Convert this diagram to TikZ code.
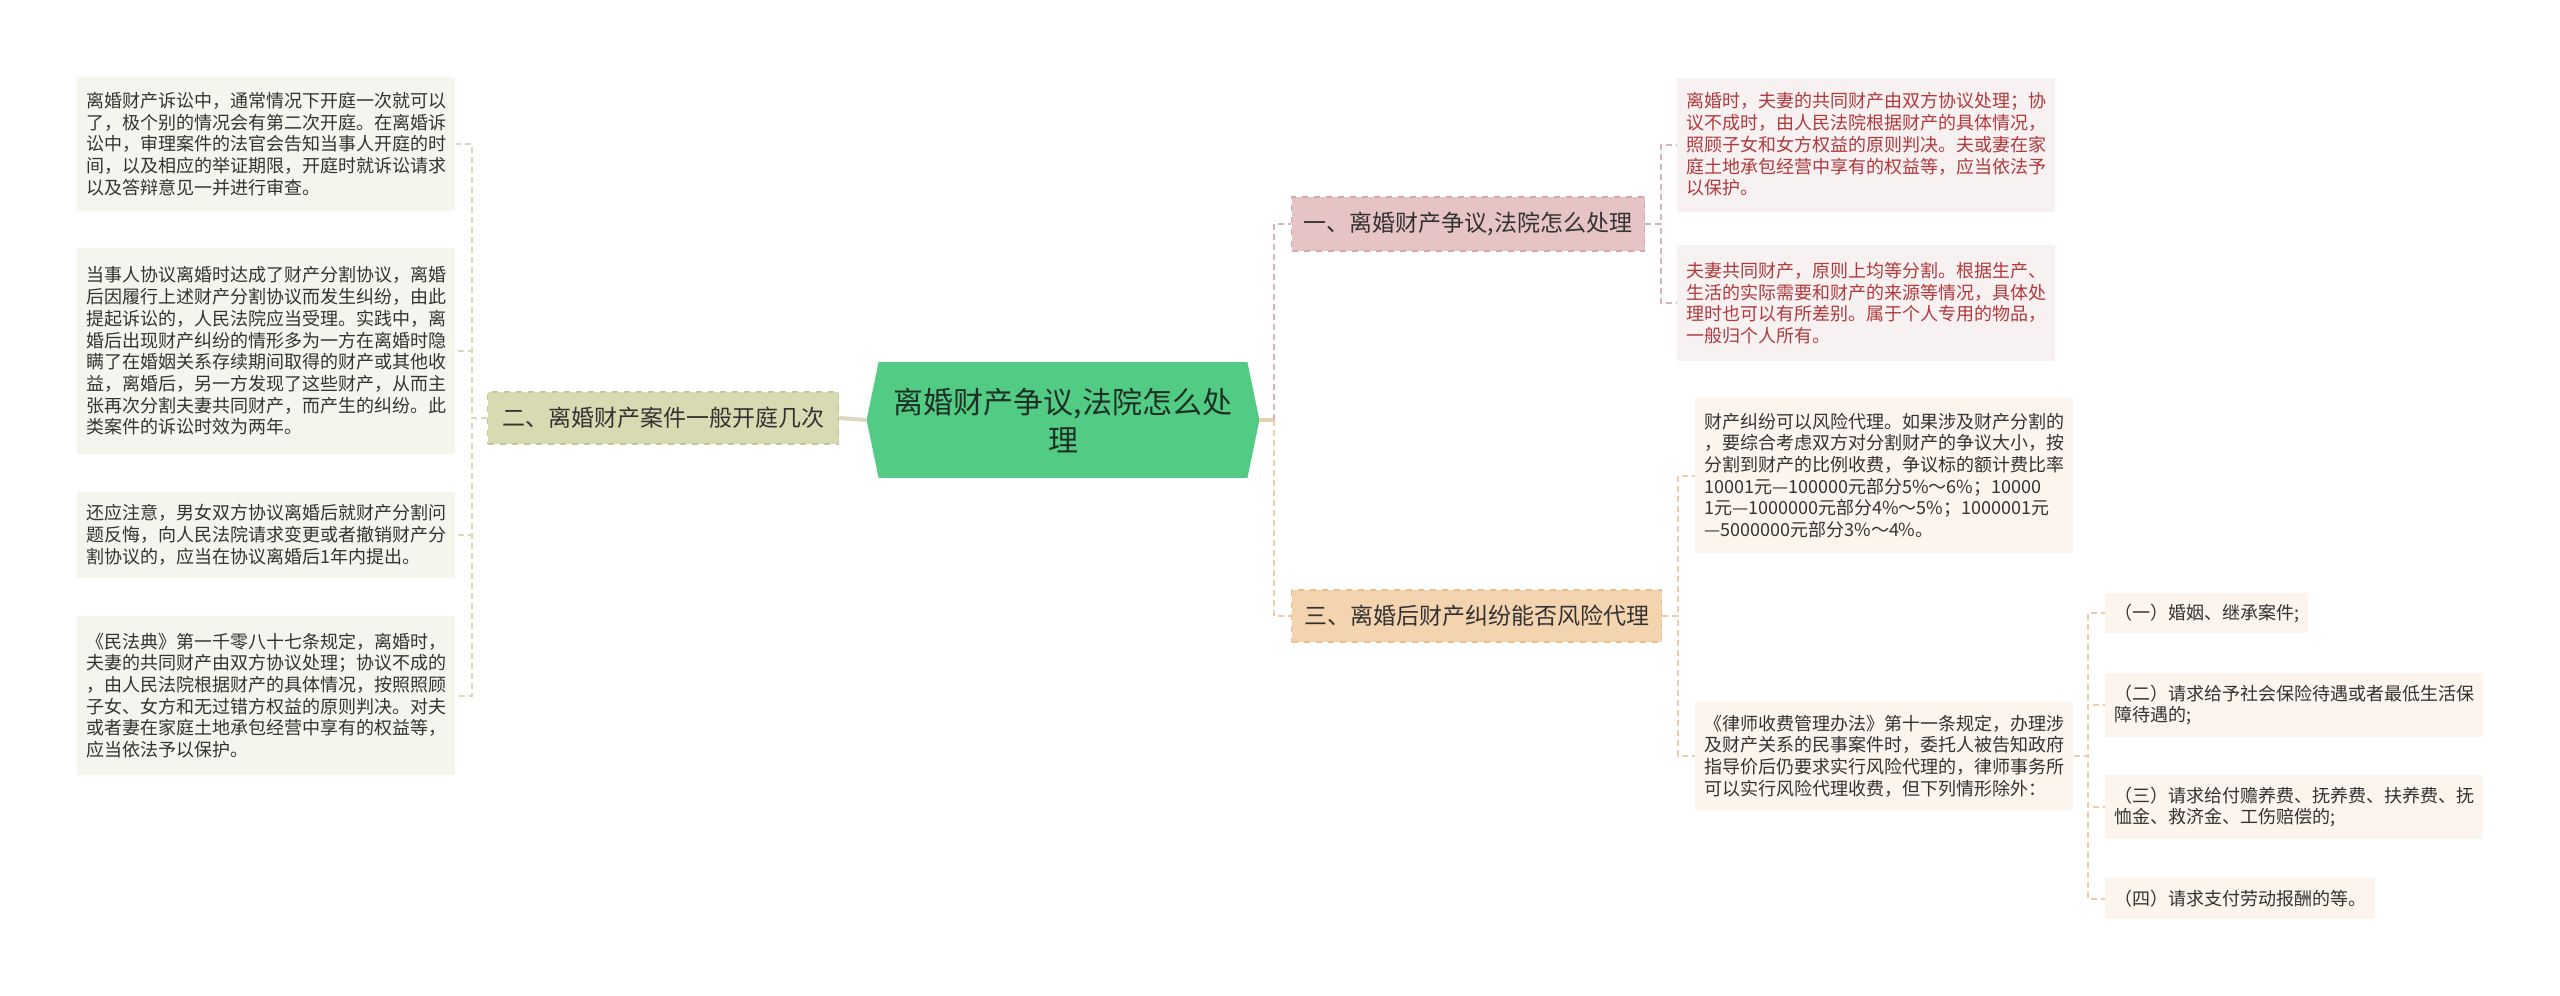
\documentclass[tikz,border=0pt]{standalone}
\usepackage{fontspec}
\setmainfont{Noto Sans CJK SC}
\usetikzlibrary{backgrounds}
\definecolor{centregreen}{HTML}{52CC84}
\definecolor{centretext}{HTML}{1E2F25}
\definecolor{leaftext}{HTML}{333333}
\definecolor{olivefill}{HTML}{D8DAB2}
\definecolor{oliveedge}{HTML}{C4C69A}
\definecolor{oliveleaf}{HTML}{F5F5EE}
\definecolor{olivelink}{HTML}{DCD8BC}
\definecolor{pinkfill}{HTML}{E6C3C4}
\definecolor{pinkedge}{HTML}{D6A9AC}
\definecolor{pinkleaf}{HTML}{F8F1F1}
\definecolor{pinktext}{HTML}{B03A3E}
\definecolor{pinklink}{HTML}{D9B3BA}
\definecolor{peachfill}{HTML}{F4D3AF}
\definecolor{peachedge}{HTML}{E5BE94}
\definecolor{peachleaf}{HTML}{FCF5EE}
\definecolor{peachlink}{HTML}{EECDAA}

\begin{document}
\begin{tikzpicture}[x=0.5pt,y=-0.5pt,text=leaftext,
  leaf/.style={anchor=west,align=left,inner xsep=4.5pt,inner ysep=0pt,font=\fontsize{9}{10.85}\selectfont},
  wide/.style={leaf,text width=180pt},
  branch/.style={anchor=west,draw,dashed,line width=0.6pt,inner sep=0pt,minimum height=26pt,font=\fontsize{11.5}{13}\selectfont},
  link/.style={line width=1pt,dash pattern=on 3pt off 2pt},
  trunk/.style={line width=2pt}]
\useasboundingbox (0,0) rectangle (2560,996);
% centre
\node[minimum width=196pt,minimum height=57.5pt,inner sep=0pt,align=center,text=centretext,font=\fontsize{15}{19}\selectfont] (centre) at (1063,420) {离婚财产争议,法院怎么处\\理};
\begin{scope}[on background layer]
\fill[centregreen] ([xshift=6pt]centre.north west) -- ([xshift=-6pt]centre.north east) -- (centre.east) -- ([xshift=-6pt]centre.south east) -- ([xshift=6pt]centre.south west) -- (centre.west) -- cycle;
\end{scope}
% branches
\node[branch,fill=olivefill,draw=oliveedge,minimum width=175.5pt] (b2) at (487,418) {二、离婚财产案件一般开庭几次};
\node[branch,fill=pinkfill,draw=pinkedge,minimum width=176.5pt,minimum height=27pt] (b1) at (1291,224) {一、离婚财产争议,法院怎么处理};
\node[branch,fill=peachfill,draw=peachedge,minimum width=185pt] (b3) at (1291,616) {三、离婚后财产纠纷能否风险代理};
% left leaves
\node[wide,fill=oliveleaf,minimum height=67pt] (l1) at (77,144) {离婚财产诉讼中，通常情况下开庭一次就可以\\了，极个别的情况会有第二次开庭。在离婚诉\\讼中，审理案件的法官会告知当事人开庭的时\\间，以及相应的举证期限，开庭时就诉讼请求\\以及答辩意见一并进行审查。};
\node[wide,fill=oliveleaf,minimum height=103pt] (l2) at (77,351) {当事人协议离婚时达成了财产分割协议，离婚\\后因履行上述财产分割协议而发生纠纷，由此\\提起诉讼的，人民法院应当受理。实践中，离\\婚后出现财产纠纷的情形多为一方在离婚时隐\\瞒了在婚姻关系存续期间取得的财产或其他收\\益，离婚后，另一方发现了这些财产，从而主\\张再次分割夫妻共同财产，而产生的纠纷。此\\类案件的诉讼时效为两年。};
\node[wide,fill=oliveleaf,minimum height=43pt] (l3) at (77,535) {还应注意，男女双方协议离婚后就财产分割问\\题反悔，向人民法院请求变更或者撤销财产分\\割协议的，应当在协议离婚后1年内提出。};
\node[wide,fill=oliveleaf,minimum height=79.5pt] (l4) at (77,695.5) {《民法典》第一千零八十七条规定，离婚时，\\夫妻的共同财产由双方协议处理；协议不成的\\，由人民法院根据财产的具体情况，按照照顾\\子女、女方和无过错方权益的原则判决。对夫\\或者妻在家庭土地承包经营中享有的权益等，\\应当依法予以保护。};
% right leaves
\node[wide,fill=pinkleaf,text=pinktext,minimum height=67pt] (r1) at (1677,144.5) {离婚时，夫妻的共同财产由双方协议处理；协\\议不成时，由人民法院根据财产的具体情况，\\照顾子女和女方权益的原则判决。夫或妻在家\\庭土地承包经营中享有的权益等，应当依法予\\以保护。};
\node[wide,fill=pinkleaf,text=pinktext,minimum height=58pt] (r2) at (1677,303) {夫妻共同财产，原则上均等分割。根据生产、\\生活的实际需要和财产的来源等情况，具体处\\理时也可以有所差别。属于个人专用的物品，\\一般归个人所有。};
\node[wide,fill=peachleaf,minimum height=77.5pt] (la) at (1695,475.5) {财产纠纷可以风险代理。如果涉及财产分割的\\，要综合考虑双方对分割财产的争议大小，按\\分割到财产的比例收费，争议标的额计费比率\\10001元—100000元部分5\%～6\%；10000\\1元—1000000元部分4\%～5\%；1000001元\\—5000000元部分3\%～4\%。};
\node[wide,fill=peachleaf,minimum height=54pt] (lb) at (1695,756) {《律师收费管理办法》第十一条规定，办理涉\\及财产关系的民事案件时，委托人被告知政府\\指导价后仍要求实行风险代理的，律师事务所\\可以实行风险代理收费，但下列情形除外：};
\node[leaf,fill=peachleaf,minimum height=20pt] (c1) at (2105,613) {（一）婚姻、继承案件;};
\node[wide,fill=peachleaf,minimum height=32pt] (c2) at (2105,705) {（二）请求给予社会保险待遇或者最低生活保\\障待遇的;};
\node[wide,fill=peachleaf,minimum height=32pt] (c3) at (2105,807) {（三）请求给付赡养费、抚养费、扶养费、抚\\恤金、救济金、工伤赔偿的;};
\node[leaf,fill=peachleaf,minimum height=20.5pt] (c4) at (2105,898.5) {（四）请求支付劳动报酬的等。};
% connectors
\coordinate (lj) at (472,418);
\coordinate (rj) at (1274,420);
\coordinate (b1j) at (1661,224);
\coordinate (b3j) at (1678,616);
\coordinate (lbj) at (2088,756);
\draw[trunk,olivelink] (centre.west) -- (b2.east);
\draw[trunk,peachlink] (centre.east) -- (rj);
\foreach \n in {l1,l2,l3,l4} \draw[link,olivelink] (b2.west) -- (lj) |- (\n.east);
\draw[link,pinklink] (rj) |- (b1.west);
\draw[link,peachlink] (rj) |- (b3.west);
\foreach \n in {r1,r2} \draw[link,pinklink] (b1.east) -- (b1j) |- (\n.west);
\foreach \n in {la,lb} \draw[link,peachlink] (b3.east) -- (b3j) |- (\n.west);
\foreach \n in {c1,c2,c3,c4} \draw[link,peachlink] (lb.east) -- (lbj) |- (\n.west);
\end{tikzpicture}
\end{document}
